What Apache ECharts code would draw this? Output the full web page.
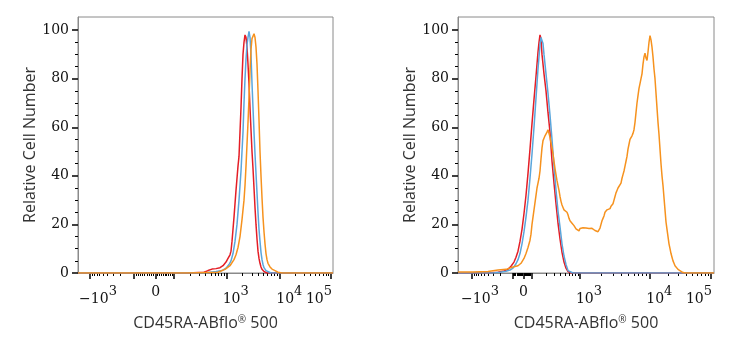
<!DOCTYPE html>
<html>
<head>
<meta charset="utf-8">
<script src="https://cdn.jsdelivr.net/npm/echarts@6/dist/echarts.min.js"></script>
<style>
  html, body { margin: 0; padding: 0; background: #fff; }
  #main { width: 733px; height: 350px; }
</style>
</head>
<body>
<div id="main"></div>
<script>
// x values are positions on the biexponential display scale (channels), y is % of max
var leftRed = [[0,0],[110,0],[126,0.3],[130,1],[134,1.6],[138,1.8],[142,2.2],[145,3],[148,4.5],[150,6],[152,7.5],[153,9],[154,13],[155,18],[156,23],[157,28.5],[158,34],[159,39],[160,44],[161,48],[162,58],[163,68],[164,80],[165,90],[166,95],[167,98],[168,97],[169,93],[170,86],[171,78],[172,68],[173,59],[174,50],[175,43],[176,35],[177,27],[178,20],[179,14],[180,9],[181,6],[182,4],[183,2.5],[184,1.5],[186,0.6],[189,0],[255,0]];
var leftBlue = [[0,0],[110,0],[130,0.2],[138,0.6],[144,1],[148,2],[151,3.5],[153,5],[155,8],[157,13],[159,20],[161,30],[163,42],[164,50],[165,58],[166,70],[167,80],[168,88],[169,94],[170,97],[171,99.5],[172,97],[173,90],[174,78],[175,68],[176,58],[177,49],[178,41],[179,33],[180,25],[181,18],[182,13],[183,8.5],[184,5.5],[185,3.5],[186,2.2],[188,1],[190,0.4],[193,0],[255,0]];
var leftOrange = [[0,0],[110,0],[140,0.3],[147,1.5],[152,3],[156,5.5],[158,7.5],[160,10.5],[162,15],[164,22],[166,30],[167,36],[168,44],[169,53],[170,62],[171,72],[172,83],[173,92],[174,96.5],[175,97],[176,98.5],[177,97],[178,93],[179,86],[180,75],[181,63],[182,50],[183,40],[184,31],[185,23],[186,17],[187,12],[188,8],[189,5.5],[190,4],[192,2.5],[194,1.6],[197,1],[200,0.3],[204,0],[255,0]];

var rightRed = [[0,0],[30,0],[40,0.3],[46,0.8],[50,1.5],[53,2.8],[56,4.5],[58,6.5],[60,9],[62,13],[64,18],[66,24.5],[68,32],[70,41],[72,51],[74,61.5],[76,71.5],[78,81],[80,91],[81,95],[82,98],[83,96.5],[84,90],[86,82],[88,75],[90,66],[92,58],[94,46],[96,37],[98,28.5],[100,20.5],[102,14],[104,8.5],[106,4.5],[108,2],[110,0.6],[113,0],[256,0]];
var rightBlue = [[0,0],[35,0],[42,0.3],[48,0.7],[52,1.2],[55,2],[58,3.8],[60,5.5],[62,8],[64,12],[66,17],[68,23],[70,30],[72,39],[74,49],[76,60],[78,72],[80,84],[82,94],[83,97],[84,96.5],[85,94.5],[86,90],[87,86],[88,82],[90,74],[92,65],[94,55],[96,44],[98,34],[100,25.5],[102,19],[104,12],[106,7],[108,3.5],[110,1],[112,0.3],[115,0],[256,0]];
var rightOrange = [[0,0.4],[15,0.4],[30,0.6],[40,1.2],[48,1.5],[55,2.5],[60,3],[63,4],[66,6],[68,8],[70,10.5],[72,13.5],[73,16],[74,20],[75,23],[76,26],[77,29],[78,32],[79,35],[80,37],[81,39],[82,42],[83,47],[84,51.5],[85,54.5],[86,55.5],[87,56.5],[88,57],[89,58],[90,59],[91,58.5],[92,56],[93,53.5],[94,51.5],[95,49],[96,46],[97,43],[98,40.5],[99,38],[100,36],[101,34],[102,31.5],[103,29.5],[104,28],[105,27],[106,26],[107,25.5],[108,25.5],[109,25],[110,24],[111,22.5],[112,21.5],[113,21],[114,20.5],[115,20],[116,19.5],[117,18.8],[118,18.2],[119,17.6],[120,17.8],[121,17.3],[122,18.3],[123,17.6],[124,18],[125,18.6],[126,17.8],[127,18],[128,18.5],[129,17.8],[130,18.2],[131,18.3],[132,18.7],[133,18],[134,18.4],[135,18.6],[136,18.2],[137,17.5],[138,17.2],[139,17],[140,17],[141,17.5],[142,18.5],[143,20],[144,21.5],[145,22.5],[146,23.5],[147,25],[148,25.5],[149,26],[150,26.5],[151,26],[152,26.5],[153,27.5],[154,28],[155,28.5],[156,30],[157,31.5],[158,33],[159,34],[160,35],[161,34.5],[162,35.5],[163,37],[164,39],[165,40.5],[166,42],[167,44],[168,46],[169,48],[170,51],[171,53],[172,55],[173,55.5],[174,56.5],[175,57.5],[176,59],[177,62],[178,66],[179,70],[180,73],[181,76],[182,78],[183,80],[184,82],[185,86],[186,89],[187,90.5],[188,88.5],[189,87.5],[190,91],[191,95],[192,97.7],[193,96],[194,93],[195,89],[196,84],[197,80],[198,74],[199,68],[200,62],[201,57],[202,51],[203,45],[204,40],[205,36],[206,31],[207,26],[208,21],[209,18],[210,15],[211,12],[212,10],[213,8],[214,6.5],[215,5],[216,4],[217,3],[218,2.5],[220,1.5],[222,0.8],[225,0.2],[228,0],[256,0]];

var xTickValues = [-1000, 0, 1000, 10000, 100000];
var xTickBase = ['\u221210', '0', '10', '10', '10'];
var xTickExp = ['3', '', '3', '4', '5'];
var yTicks = [0, 20, 40, 60, 80, 100];
var yMinorTicks = [5, 10, 15, 25, 30, 35, 45, 50, 55, 65, 70, 75, 85, 90, 95];
var xTitle = 'CD45RA-ABflo';
var yTitle = 'Relative Cell Number';

var chart = echarts.init(document.getElementById('main'));

// biexponential-ish display: log between decades, linear around zero
function makeScale(anchors) {
    var lg = function (v) { return Math.log10(Math.abs(v)); };
    function between(v, a, b) {
        var t;
        if (a[0] * b[0] > 0) {
            t = (lg(v) - lg(a[0])) / (lg(b[0]) - lg(a[0]));
        } else {
            t = (v - a[0]) / (b[0] - a[0]);
        }
        return a[1] + t * (b[1] - a[1]);
    }
    return function (v) {
        var i = 0;
        while (i < anchors.length - 2 && v > anchors[i + 1][0]) i++;
        return between(v, anchors[i], anchors[i + 1]);
    };
}
var leftT = makeScale([[-1000, 12], [-100, 55.7], [0, 77.7], [100, 96], [1000, 148.7], [10000, 201.3], [100000, 253]]);
var rightT = makeScale([[-1000, 14], [-100, 54.3], [0, 65.5], [100, 73.3], [1000, 122], [10000, 191.3], [100000, 253]]);

var minorVals = [];
for (var k = 2; k <= 9; k++) {
    minorVals.push(-k * 100, k * 100, k * 1000, k * 10000);
}
for (k = 1; k <= 9; k++) {
    minorVals.push(-k * 10, k * 10);
}
var majorVals = [-1000, -100, 0, 100, 1000, 10000, 100000];
var labelShift = [8, 0, 9, 10, -12];

var serif = 'DejaVu Serif';
var sans = 'Open Sans';

function xAxes(grid, T, max) {
    var inRange = function (p) { return p >= 0 && p <= max; };
    var minorPos = minorVals.map(T).filter(inRange);
    var majorPos = majorVals.map(T).filter(inRange);
    var labelPos = xTickValues.map(function (v, i) { return T(v) + labelShift[i]; });
    var base = { gridIndex: grid, type: 'value', min: 0, max: max, position: 'bottom', splitLine: { show: false } };
    return [
        Object.assign({}, base, {
            axisLine: { show: true, lineStyle: { color: '#8a8a8a', width: 1 } },
            axisTick: { show: true, customValues: minorPos, length: 3, lineStyle: { color: '#000', width: 1 } },
            axisLabel: { show: false }
        }),
        Object.assign({}, base, {
            axisLine: { show: false },
            axisTick: { show: true, customValues: majorPos, length: 6, lineStyle: { color: '#000', width: 1.5 } },
            axisLabel: { show: false }
        }),
        Object.assign({}, base, {
            axisLine: { show: false },
            axisTick: { show: false },
            axisLabel: {
                show: true,
                customValues: labelPos,
                margin: 12,
                formatter: function (val) {
                    var i = 0;
                    for (var j = 0; j < labelPos.length; j++) {
                        if (Math.abs(labelPos[j] - val) < 0.01) i = j;
                    }
                    if (!xTickExp[i]) return '{b|' + xTickBase[i] + '}';
                    return '{b|' + xTickBase[i] + '}{s|' + xTickExp[i] + '}';
                },
                rich: {
                    b: { fontFamily: serif, fontSize: 14, color: '#111', verticalAlign: 'bottom' },
                    s: { fontFamily: serif, fontSize: 13, color: '#111', verticalAlign: 'bottom', padding: [0, 0, 8, 0] }
                }
            },
            name: '{t|' + xTitle + '}{r|\u00ae}{t| 500}',
            nameLocation: 'middle',
            nameGap: 42,
            nameTextStyle: {
                rich: {
                    t: { fontFamily: sans, fontSize: 16, color: '#333', verticalAlign: 'bottom' },
                    r: { fontFamily: sans, fontSize: 10, color: '#333', verticalAlign: 'bottom', padding: [0, 0, 6, 0] }
                }
            }
        })
    ];
}

function yAxes(grid, gap) {
    var base = { gridIndex: grid, type: 'value', min: 0, max: 105.4, position: 'left', splitLine: { show: false } };
    return [
        Object.assign({}, base, {
            axisLine: { show: true, lineStyle: { color: '#8a8a8a', width: 1 } },
            axisTick: { show: true, customValues: yTicks, length: 6, lineStyle: { color: '#000', width: 1.5 } },
            axisLabel: { show: true, customValues: yTicks, margin: 9, fontFamily: serif, fontSize: 14, color: '#111' },
            name: yTitle,
            nameLocation: 'middle',
            nameRotate: 90,
            nameGap: gap,
            nameTextStyle: { fontFamily: sans, fontSize: 16, color: '#333' }
        }),
        Object.assign({}, base, {
            axisLine: { show: false },
            axisTick: { show: true, customValues: yMinorTicks, length: 3, lineStyle: { color: '#000', width: 1 } },
            axisLabel: { show: false }
        })
    ];
}

function line(data, color, xi, yi) {
    return {
        type: 'line', data: data, xAxisIndex: xi, yAxisIndex: yi,
        showSymbol: false, symbol: 'none', animation: false,
        lineStyle: { color: color, width: 1.5 }, itemStyle: { color: color }
    };
}

var red = '#e41e26', blue = '#5aa6dc', orange = '#f6921e';

chart.setOption({
    animation: false,
    grid: [
        { left: 78, top: 17, width: 255, height: 256, show: true, borderColor: '#8a8a8a', borderWidth: 1 },
        { left: 458, top: 17, width: 256, height: 256, show: true, borderColor: '#8a8a8a', borderWidth: 1 }
    ],
    xAxis: xAxes(0, leftT, 255).concat(xAxes(1, rightT, 256)),
    yAxis: yAxes(0, 40).concat(yAxes(1, 40)),
    series: [
        line(leftRed, red, 0, 0),
        line(leftBlue, blue, 0, 0),
        line(leftOrange, orange, 0, 0),
        line(rightRed, red, 3, 2),
        line(rightBlue, blue, 3, 2),
        line(rightOrange, orange, 3, 2)
    ]
});
</script>
</body>
</html>
